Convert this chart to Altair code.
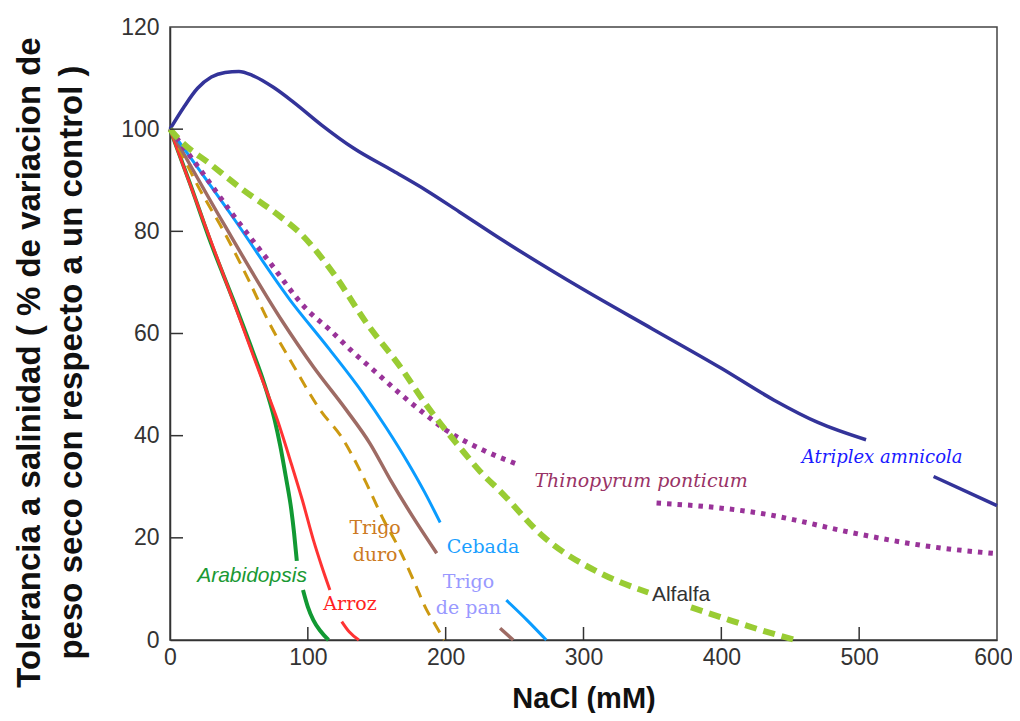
import altair as alt
import pandas as pd

# ---------------- data ----------------
ATRIPLEX_X1 = [0, 10, 20, 30, 40, 50, 60, 75, 90, 110, 133, 162, 186, 210, 240, 300, 350, 400, 438, 470, 505]
ATRIPLEX_Y1 = [100, 104.3, 108, 110.2, 111.1, 111.3, 110.5, 108.2, 105.2, 100.8, 96.3, 91.8, 88, 83.8, 78.5, 68.6, 60.9, 53.2, 47, 42.6, 39.2]
ATRIPLEX_X2 = [554, 600]
ATRIPLEX_Y2 = [32, 26.3]

ARABIDOPSIS_X1 = [0, 15, 30, 46, 60, 68, 76, 80, 84, 88, 90, 92]
ARABIDOPSIS_Y1 = [100, 89, 77.5, 66.5, 56.5, 50.5, 43, 38, 32, 25.5, 21, 15.5]
ARABIDOPSIS_X2 = [96.5, 100, 104, 109, 115]
ARABIDOPSIS_Y2 = [9.8, 6.5, 3.9, 1.8, 0]

ARROZ_X1 = [0, 25, 51, 65, 78, 88, 96, 104, 110, 116]
ARROZ_Y1 = [100, 81.5, 62.6, 52.3, 43, 34.5, 27.4, 19.6, 14.5, 9.8]
ARROZ_X2 = [124.6, 130, 137]
ARROZ_Y2 = [3.6, 1.6, 0]

DURO_X = [0, 20, 40, 57, 71, 90, 109, 125, 141, 155, 166, 177, 186, 192, 199]
DURO_Y = [100, 89, 79.5, 70.5, 62.6, 53.5, 45, 39.5, 31.5, 23.5, 18, 11.5, 6, 3.2, 0]

PAN_X1 = [0, 40, 81, 104, 128, 145, 160, 176, 193.5]
PAN_Y1 = [100, 81, 62.6, 53.5, 45, 38.5, 31.3, 24.2, 17]
PAN_X2 = [239.5, 249]
PAN_Y2 = [2.3, 0]

CEBADA_X1 = [0, 45, 87, 116, 140, 157, 172, 185, 196]
CEBADA_Y1 = [100, 83, 66.6, 56.8, 48.3, 41.5, 35, 28.8, 23]
CEBADA_X2 = [244, 259, 273]
CEBADA_Y2 = [7.8, 3.9, 0]

THINO_X1 = [0, 20.5, 45, 71, 100, 116, 131, 152, 167, 186, 198, 227, 253]
THINO_Y1 = [100, 92.6, 83.5, 74.4, 64.5, 60.7, 56.8, 51.8, 48.2, 44, 41.5, 37.2, 34.3]
THINO_X2 = [353, 397, 433, 455, 481, 506, 530, 554, 600]
THINO_Y2 = [26.8, 25.9, 24.6, 23.4, 21.8, 20.4, 19.2, 18.2, 16.9]

ALFALFA_X1 = [0, 7, 30, 53, 77, 95, 118.5, 142.7, 167, 186, 210, 225, 240, 271, 312, 347]
ALFALFA_Y1 = [100, 97.9, 93, 88.1, 83.5, 79.5, 71.8, 62, 53.5, 46, 37.8, 33, 29, 20.2, 13.1, 9.3]
ALFALFA_X2 = [378, 406, 428, 453.5]
ALFALFA_Y2 = [6.4, 3.9, 2, 0]

X_TICKS = [100, 200, 300, 400, 500]
Y_TICKS = [20, 40, 60, 80, 100]
X_LABELS = [0, 100, 200, 300, 400, 500, 600]
Y_LABELS = [0, 20, 40, 60, 80, 100, 120]

LABEL_TEXT = ["Atriplex amnicola", "Thinopyrum ponticum", "Trigo", "duro", "Cebada",
              "Trigo", "de pan", "Arabidopsis", "Arroz", "Alfalfa"]
LABEL_X = [516.7, 341.8, 148.8, 148.8, 227.1, 216.5, 216.5, 59.5, 130.6, 370.8]
LABEL_Y = [35.6, 31.1, 21.9, 16.6, 18.3, 11.3, 6.3, 12.6, 7.0, 8.8]

# ---------------- build tables ----------------
series = [
    ("atriplex", [(ATRIPLEX_X1, ATRIPLEX_Y1), (ATRIPLEX_X2, ATRIPLEX_Y2)]),
    ("arabidopsis", [(ARABIDOPSIS_X1, ARABIDOPSIS_Y1), (ARABIDOPSIS_X2, ARABIDOPSIS_Y2)]),
    ("arroz", [(ARROZ_X1, ARROZ_Y1), (ARROZ_X2, ARROZ_Y2)]),
    ("duro", [(DURO_X, DURO_Y)]),
    ("pan", [(PAN_X1, PAN_Y1), (PAN_X2, PAN_Y2)]),
    ("cebada", [(CEBADA_X1, CEBADA_Y1), (CEBADA_X2, CEBADA_Y2)]),
    ("thino", [(THINO_X1, THINO_Y1), (THINO_X2, THINO_Y2)]),
    ("alfalfa", [(ALFALFA_X1, ALFALFA_Y1), (ALFALFA_X2, ALFALFA_Y2)]),
]
rows = []
for name, segs in series:
    for i, (xs, ys) in enumerate(segs):
        for xv, yv in zip(xs, ys):
            rows.append({"sp": name, "seg": f"{name}{i}", "x": xv, "y": yv})
lines_df = pd.DataFrame(rows)

styles = {
    "atriplex": dict(color="#333399", strokeWidth=3.5),
    "arabidopsis": dict(color="#119933", strokeWidth=4),
    "arroz": dict(color="#ff3333", strokeWidth=3),
    "duro": dict(color="#cc9911", strokeWidth=3, strokeDash=[12, 8]),
    "pan": dict(color="#9e6b64", strokeWidth=3.5),
    "cebada": dict(color="#0a9cff", strokeWidth=3),
    "thino": dict(color="#993399", strokeWidth=5, strokeDash=[4.5, 6]),
    "alfalfa": dict(color="#99cc33", strokeWidth=6, strokeDash=[12, 7]),
}

xscale = alt.Scale(domain=[0, 600], nice=False, zero=True)
yscale = alt.Scale(domain=[0, 120], nice=False, zero=True)

x_axis = alt.Axis(
    values=X_LABELS, ticks=False, grid=False, domainColor="#333", domainWidth=1.5,
    labelFont="Liberation Sans", labelFontSize=23, labelColor="#333", labelPadding=6,
    labelFlush=False,
    labelOffset={"condition": {"test": "datum.value == 600", "value": -4}, "value": 0},
    title="NaCl (mM)", titleFont="Liberation Sans", titleFontSize=29,
    titleFontWeight="bold", titleColor="#111", titleX=413.5, titleY=67,
    titleBaseline="alphabetic", titleAlign="center",
)
y_axis = alt.Axis(
    values=Y_LABELS, ticks=False, grid=False, domainColor="#333", domainWidth=1.5,
    labelFont="Liberation Sans", labelFontSize=23, labelColor="#333", labelPadding=11,
    labelFlush=False,
    title=["Tolerancia a salinidad ( % de variacion de",
           "peso seco con respecto a un control )"],
    titleFont="Liberation Sans", titleFontSize=33, titleFontWeight="bold",
    titleColor="#111", titleAngle=270, titleX=-131, titleY=335,
    titleAlign="center", titleBaseline="alphabetic", titleLineHeight=42,
)

X = alt.X("x:Q", scale=xscale, axis=x_axis)
Y = alt.Y("y:Q", scale=yscale, axis=y_axis)

layers = []
for name, _ in series:
    st = styles[name]
    layers.append(
        alt.Chart(lines_df)
        .transform_filter(alt.datum.sp == name)
        .mark_line(interpolate="monotone", strokeCap="butt", **st)
        .encode(x=X, y=Y, detail="seg:N", order="x:Q")
    )

# inward ticks
xt_df = pd.DataFrame({"x": X_TICKS})
yt_df = pd.DataFrame({"y": Y_TICKS})
layers.append(
    alt.Chart(xt_df).mark_rule(color="#333", strokeWidth=1.5)
    .encode(x=X, y=alt.value(600), y2=alt.value(613))
)
layers.append(
    alt.Chart(yt_df).mark_rule(color="#333", strokeWidth=1.5)
    .encode(y=Y, x=alt.value(0), x2=alt.value(13))
)

# labels
lab_df = pd.DataFrame({"id": list(range(len(LABEL_TEXT))), "t": LABEL_TEXT,
                       "x": LABEL_X, "y": LABEL_Y})
lab_styles = [
    dict(color="#1a1aff", font="DejaVu Serif", fontSize=18, fontStyle="italic"),
    dict(color="#993366", font="DejaVu Serif", fontSize=19, fontStyle="italic"),
    dict(color="#cc7a22", font="DejaVu Serif", fontSize=19),
    dict(color="#cc7a22", font="DejaVu Serif", fontSize=19),
    dict(color="#1a9fff", font="DejaVu Serif", fontSize=19),
    dict(color="#9999ff", font="DejaVu Serif", fontSize=19),
    dict(color="#9999ff", font="DejaVu Serif", fontSize=19),
    dict(color="#1a9933", font="Liberation Sans", fontSize=21, fontStyle="italic"),
    dict(color="#ff2222", font="DejaVu Serif", fontSize=19),
    dict(color="#333333", font="Liberation Sans", fontSize=21),
]
for i, st in enumerate(lab_styles):
    layers.append(
        alt.Chart(lab_df).transform_filter(alt.datum.id == i)
        .mark_text(align="center", baseline="middle", **st)
        .encode(x=X, y=Y, text="t:N")
    )

chart = (
    alt.layer(*layers)
    .properties(
        width=827, height=613,
        padding={"left": 162, "top": 19, "right": 15, "bottom": 73},
        autosize=alt.AutoSizeParams(type="none"),
        background="white",
    )
    .configure_view(stroke="#444", strokeWidth=1.5)
)

chart.save("out.html", embed_options={"renderer": "svg", "actions": False})
